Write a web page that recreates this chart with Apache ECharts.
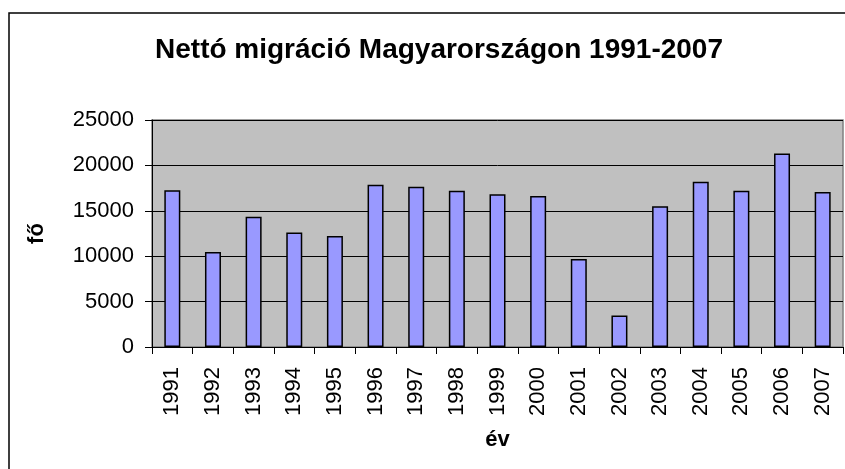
<!DOCTYPE html>
<html>
<head>
<meta charset="utf-8">
<script src="https://cdn.jsdelivr.net/npm/echarts@6/dist/echarts.min.js"></script>
<style>
  html, body { margin: 0; padding: 0; background: #fff; }
  #main { width: 845px; height: 469px; }
</style>
</head>
<body>
<div id="main"></div>
<script>
// adatok
var evek = ['1991', '1992', '1993', '1994', '1995', '1996', '1997', '1998', '1999',
            '2000', '2001', '2002', '2003', '2004', '2005', '2006', '2007'];
var migracio = [17250, 10460, 14350, 12620, 12220, 17870, 17650, 17220, 16820,
                16630, 9690, 3480, 15500, 18200, 17220, 21300, 17070];

var font = 'Liberation Sans, Arial, sans-serif';

var chart = echarts.init(document.getElementById('main'));

var option = {
    animation: false,
    backgroundColor: '#fff',
    title: {
        text: 'Nettó migráció Magyarországon 1991-2007',
        left: 434,
        textAlign: 'center',
        top: 31,
        textStyle: { fontFamily: font, fontSize: 28, fontWeight: 'bold', color: '#000' }
    },
    // külső keret
    graphic: [{
        type: 'rect',
        shape: { x: 9, y: 13, width: 900, height: 500 },
        style: { fill: 'none', stroke: '#000', lineWidth: 1.5 },
        silent: true
    }],
    grid: {
        left: 152, right: 2, top: 120, bottom: 122,
        show: true,
        backgroundColor: '#c0c0c0',
        borderColor: '#808080',
        borderWidth: 1.5
    },
    xAxis: {
        type: 'category',
        data: evek,
        name: 'év',
        nameLocation: 'middle',
        nameGap: 82,
        nameTextStyle: { fontFamily: font, fontSize: 22, fontWeight: 'bold', color: '#000' },
        axisLine: { lineStyle: { color: '#000', width: 1 } },
        axisTick: { show: true, length: 7, lineStyle: { color: '#000' } },
        axisLabel: {
            rotate: 90,
            margin: 20,
            fontFamily: font,
            fontSize: 22,
            color: '#000'
        }
    },
    yAxis: {
        type: 'value',
        min: 0,
        max: 25000,
        interval: 5000,
        name: 'fő',
        nameLocation: 'middle',
        nameGap: 104,
        nameTextStyle: { fontFamily: font, fontSize: 22, fontWeight: 'bold', color: '#000' },
        axisLine: { show: true, lineStyle: { color: '#000', width: 1 } },
        axisTick: { show: true, length: 7, lineStyle: { color: '#000' } },
        axisLabel: {
            margin: 18,
            fontFamily: font,
            fontSize: 22,
            color: '#000',
            formatter: function (v) { return String(v); }
        },
        splitLine: { show: true, lineStyle: { color: '#000', width: 1 } }
    },
    series: [{
        type: 'bar',
        data: migracio,
        barWidth: 16,
        itemStyle: {
            color: '#9999ff',
            borderColor: '#000',
            borderWidth: 1.5
        }
    }]
};

chart.setOption(option);
</script>
</body>
</html>
